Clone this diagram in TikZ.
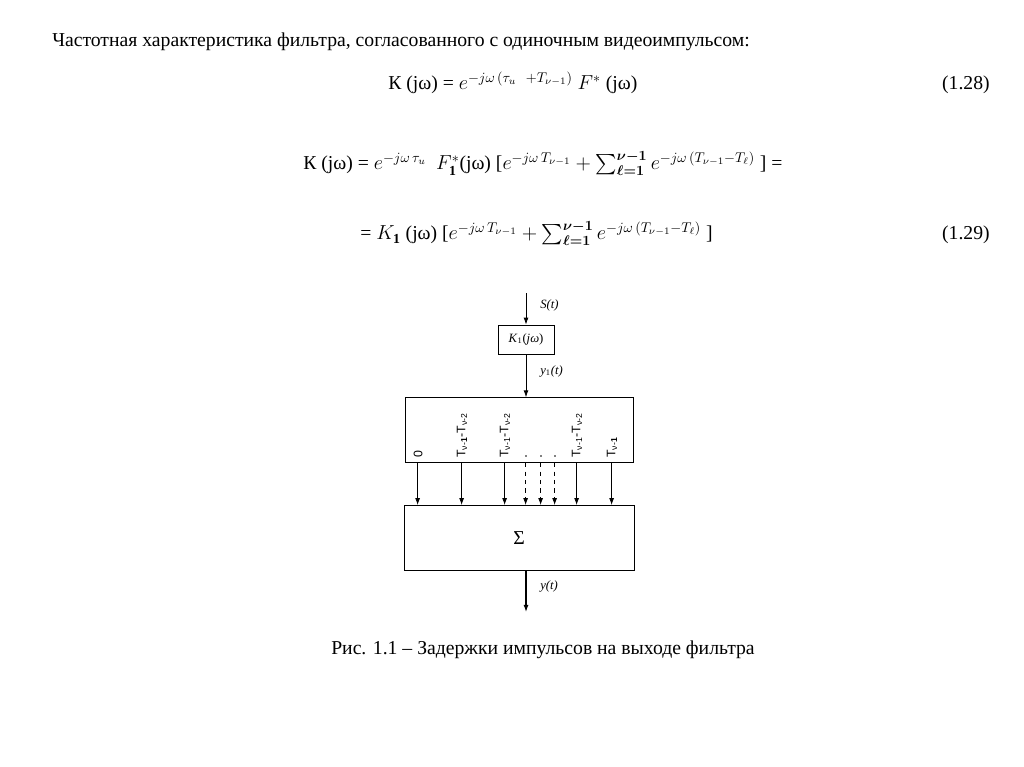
\documentclass[tikz,border=0pt]{standalone}
\usepackage{fontspec}
\usepackage{amsmath}
\setmainfont{Liberation Serif}
\setsansfont{Liberation Sans}
\usetikzlibrary{arrows.meta, positioning}

\newcommand{\dT}[2]{T\textsubscript{#1}-T\textsubscript{#2}}

\begin{document}
\begin{tikzpicture}[x=0.025cm, y=-0.025cm,
  eqn/.style={font=\fontsize{14}{17}\selectfont, inner sep=0pt},
  block/.style={rectangle, draw, line width=0.5pt, inner sep=0pt},
  sig/.style={-{Latex[length=5pt, width=3.5pt]}, line width=0.6pt},
  lbl/.style={font=\fontsize{9}{10}\selectfont\itshape, inner sep=0pt, anchor=west},
  tap/.style={rotate=90, anchor=west, font=\sffamily\fontsize{8.8}{10}\selectfont, inner sep=0pt}
]
\useasboundingbox (0,0) rectangle (1024,767);

% text and formulas
\node[eqn, anchor=base west] (head) at (52,47)
  {Частотная характеристика фильтра, согласованного с одиночным видеоимпульсом:};
\node[eqn, anchor=base west] (eqa) at (388,90)
  {К (jω) = $e^{-j\omega\,(\tau_u\ \ +T_{\nu-1})}\ F^{*}$ (jω)};
\node[eqn, anchor=base east] (n28) at (990,90) {(1.28)};
\node[eqn, anchor=base west] (eqb) at (303,170)
  {К (jω) = $e^{-j\omega\,\tau_u}\ \ F_{\mathbf{1}}^{*}$(jω) [$e^{-j\omega\,T_{\nu-1}}
   + \sum\nolimits_{\boldsymbol{\ell=1}}^{\boldsymbol{\nu-1}} e^{-j\omega\,(T_{\nu-1}-T_{\ell})}$ ] =};
\node[eqn, anchor=base west] (eqc) at (360,240)
  {= $K_{\mathbf{1}}$ (jω) [$e^{-j\omega\,T_{\nu-1}}
   + \sum\nolimits_{\boldsymbol{\ell=1}}^{\boldsymbol{\nu-1}} e^{-j\omega\,(T_{\nu-1}-T_{\ell})}$ ]};
\node[eqn, anchor=base east] (n29) at (990,240) {(1.29)};

% blocks
\coordinate (src) at (526,293);
\coordinate (dst) at (526,612);
\node[block, minimum width=1.4cm, minimum height=0.725cm, font=\fontsize{9}{10}\selectfont]
  (k1) at (526,339.5) {\textit{K}\textsubscript{1}(\textit{jω})};
\node[block, minimum width=5.7cm, minimum height=1.625cm, below=1.075cm of k1, xshift=-0.175cm] (dl) {};
\node[block, minimum width=5.75cm, minimum height=1.625cm, below=1.05cm of dl,
  font=\fontsize{14}{17}\selectfont] (sum) {Σ};

\draw[sig] (src) -- (k1);
\draw[sig] (k1.south) -- (k1.south |- dl.north);
\draw[sig, line width=0.8pt] (dst |- sum.south) -- (dst);

\node[lbl] (ls) at (540,305) {S(t)};
\node[lbl] (ly1) at (540,371) {y\textsubscript{\upshape 1}(t)};
\node[lbl] (ly) at (540,586) {y(t)};

% delayed copies
\foreach \x/\ls [count=\i] in {418/solid, 462/solid, 505/solid, 526/dashed,
                               541/dashed, 555/dashed, 577/solid, 612/solid}{
  \coordinate (tp\i) at ([xshift={(\x-405)*0.025cm}]dl.south west);
  \draw[sig, \ls] (tp\i) -- (tp\i |- sum.north);
}
\foreach \x/\t [count=\i] in {418/0, 462/{\dT{ν-\textbf{1}}{ν-2}}, 505/{\dT{ν-1}{ν-2}},
                              577/{\dT{ν-1}{ν-2}}, 612/{T\textsubscript{ν-\textbf{1}}}}
  \node[tap] (dt\i) at (\x,458) {\t};
\foreach \x in {526,541,555}
  \fill (\x,456) circle (0.6pt);

\node[eqn, anchor=base] (cap) at (543,654) {Рис. 1.1 – Задержки импульсов на выходе фильтра};
\end{tikzpicture}
\end{document}
